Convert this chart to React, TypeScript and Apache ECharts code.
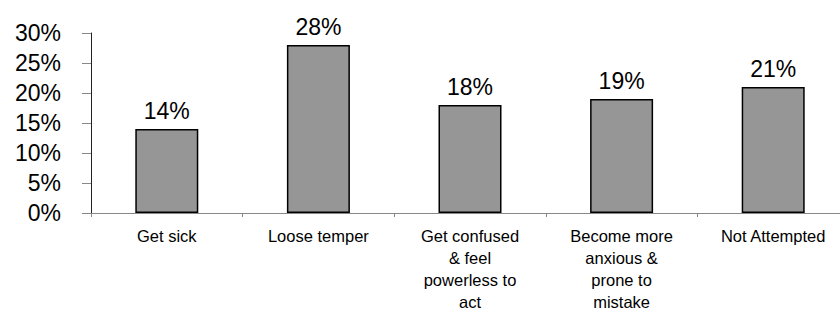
import React, { useEffect, useRef } from "react";
import * as echarts from "echarts";

const categories = [
  "Get sick",
  "Loose temper",
  "Get confused\n& feel\npowerless to\nact",
  "Become more\nanxious &\nprone to\nmistake",
  "Not Attempted",
];
const values = [14, 28, 18, 19, 21];
const yTicks = [0, 5, 10, 15, 20, 25, 30];

export default function App() {
  const ref = useRef<HTMLDivElement>(null);
  useEffect(() => {
    if (!ref.current) return;
    document.body.style.margin = "0";
    document.body.style.overflow = "hidden";
    const chart = echarts.init(ref.current, null, { renderer: "svg" });
    chart.setOption({
      animation: false,
      backgroundColor: "#ffffff",
      textStyle: { fontFamily: "Liberation Sans, Arial, sans-serif" },
      grid: { left: 91, top: 33, height: 180, width: 758, outerBoundsMode: "none", containLabel: false },
      xAxis: {
        type: "category",
        data: categories,
        axisLine: { show: true, lineStyle: { color: "#888888", width: 1 } },
        axisTick: { show: true, alignWithLabel: false, length: 4, lineStyle: { color: "#888888" } },
        axisLabel: {
          color: "#000",
          fontSize: 16.5,
          lineHeight: 22,
          margin: 12,
          interval: 0,
          fontFamily: "Liberation Sans, Arial, sans-serif",
        },
      },
      yAxis: {
        type: "value",
        min: yTicks[0],
        max: yTicks[yTicks.length - 1],
        interval: 5,
        axisLine: { show: true, lineStyle: { color: "#222222", width: 1 } },
        axisTick: { show: true, length: 9, lineStyle: { color: "#888888" } },
        splitLine: { show: false },
        axisLabel: {
          color: "#000",
          fontSize: 23,
          margin: 30,
          formatter: (v: number) => v + "%",
          fontFamily: "Liberation Sans, Arial, sans-serif",
        },
      },
      series: [
        {
          type: "bar",
          data: values,
          barWidth: 63,
          itemStyle: { color: "#969696", borderColor: "#000000", borderWidth: 1.5 },
          label: {
            show: true,
            position: "top",
            distance: 7,
            color: "#000",
            fontSize: 23,
            formatter: (p: any) => p.value + "%",
            fontFamily: "Liberation Sans, Arial, sans-serif",
          },
        },
      ],
    });
    return () => chart.dispose();
  }, []);
  return (
    <div style={{ width: 840, height: 313, position: "absolute", left: 0, top: 0, overflow: "hidden" }}>
      <div ref={ref} style={{ width: 840, height: 313 }} />
    </div>
  );
}
